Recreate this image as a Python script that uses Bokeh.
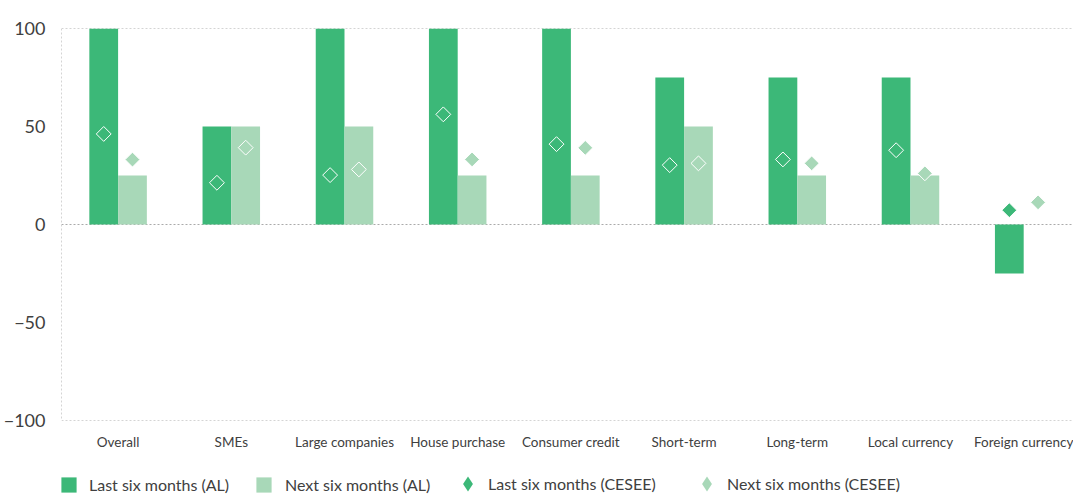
import math
from bokeh.plotting import figure
from bokeh.layouts import column
from bokeh.models import (ColumnDataSource, Range1d, FixedTicker, Span, Legend, LegendItem)
from bokeh.embed import file_html
from bokeh.resources import INLINE

categories = ["Overall", "SMEs", "Large companies", "House purchase", "Consumer credit",
              "Short-term", "Long-term", "Local currency", "Foreign currency"]
last_al = [100, 50, 100, 100, 100, 75, 75, 75, -25]
next_al = [25, 50, 50, 25, 25, 50, 25, 25, 0]
last_cesee = [46.2, 21.3, 25.2, 56.2, 41.0, 30.3, 33.2, 37.9, 7.3]
next_cesee = [33.1, 39.2, 28.1, 33.2, 39.1, 31.2, 31.2, 26.1, 11.3]
y_ticks = [-100, -50, 0, 50, 100]
legend_labels = ["Last six months (AL)", "Next six months (AL)",
                 "Last six months (CESEE)", "Next six months (CESEE)"]

DARK = "#3cb878"
LIGHT = "#a8d8b8"
FONT = "Lato"
TXT = "#404040"
BW = 0.254

idx = list(range(len(categories)))
src = ColumnDataSource(dict(
    xd=[i - BW / 2 for i in idx],
    xl=[i + BW / 2 for i in idx],
    last_al=last_al, next_al=next_al,
    last_cesee=last_cesee, next_cesee=next_cesee,
))

p = figure(width=1073, height=452, output_backend="svg", toolbar_location=None,
           x_range=Range1d(-0.5, 8.44), y_range=Range1d(y_ticks[0], y_ticks[-1]),
           min_border_left=53, min_border_right=0, min_border_top=28, min_border_bottom=30)
p.outline_line_color = None
p.grid.visible = False

for loc in (y_ticks[-1], 0, y_ticks[0]):
    p.add_layout(Span(location=loc, dimension="width", line_color="#aaaaaa",
                      line_dash="2 2", line_width=1, level="underlay"))
p.add_layout(Span(location=-0.5, dimension="height", line_color="#aaaaaa",
                  line_dash="2 2", line_width=1, level="underlay"))

bar_kw = dict(width=BW, bottom=0, source=src, line_color=None)
p.vbar(x="xd", top="last_al", fill_color=DARK, **bar_kw)
p.vbar(x="xl", top="next_al", fill_color=LIGHT, **bar_kw)
dia_kw = dict(source=src, marker="square", size=10.5, angle=math.pi / 4,
              line_color="white", line_width=1)
p.scatter(x="xd", y="last_cesee", fill_color=DARK, **dia_kw)
p.scatter(x="xl", y="next_cesee", fill_color=LIGHT, **dia_kw)

p.yaxis.ticker = FixedTicker(ticks=y_ticks)
p.xaxis.ticker = FixedTicker(ticks=idx)
p.xaxis.major_label_overrides = {i: c for i, c in zip(idx, categories)}
for ax in (p.xaxis, p.yaxis):
    ax.axis_line_color = None
    ax.major_tick_line_color = None
    ax.minor_tick_line_color = None
    ax.major_tick_out = 0
    ax.major_label_text_font = FONT
    ax.major_label_text_color = TXT
p.yaxis.major_label_standoff = 16
p.yaxis.major_label_text_font_size = "18px"
p.xaxis.major_label_standoff = 13
p.xaxis.major_label_text_font_size = "13.5px"

# legend strip (its frame is aligned with the main plot's frame)
lf = figure(width=1073, height=42, output_backend="svg", toolbar_location=None,
            x_axis_type=None, y_axis_type=None, x_range=Range1d(0, 1), y_range=Range1d(0, 1),
            min_border_left=0, min_border_right=0, min_border_top=0, min_border_bottom=0)
lf.outline_line_color = None
lf.grid.visible = False
offscreen = ColumnDataSource(dict(x=[-5], y=[-5], top=[-4]))
lr1 = lf.vbar(x="x", top="top", bottom="y", width=0.1, source=offscreen,
              fill_color=DARK, line_color=None)
lr2 = lf.vbar(x="x", top="top", bottom="y", width=0.1, source=offscreen,
              fill_color=LIGHT, line_color=None)
lr3 = lf.scatter(x="x", y="y", source=offscreen, marker="diamond",
                 fill_color=DARK, line_color=None)
lr4 = lf.scatter(x="x", y="y", source=offscreen, marker="diamond",
                 fill_color=LIGHT, line_color=None)

def add_legend(label, renderer, x, y, glyph, standoff):
    lg = Legend(items=[LegendItem(label=label, renderers=[renderer])],
                location=(x, y), orientation="horizontal",
                glyph_width=glyph, glyph_height=glyph, label_standoff=standoff,
                padding=0, margin=0, spacing=0, label_height=20,
                border_line_color=None, background_fill_alpha=0,
                label_text_font=FONT, label_text_font_size="16px",
                label_text_color=TXT)
    lf.add_layout(lg)

add_legend(legend_labels[0], lr1, -2, 0, 19, 11)
add_legend(legend_labels[1], lr2, 193, 0, 19, 12)
add_legend(legend_labels[2], lr3, 388, -8, 37, 2)
add_legend(legend_labels[3], lr4, 627, -8, 37, 2)

open("out.html", "w").write(file_html(column(p, lf), INLINE))
